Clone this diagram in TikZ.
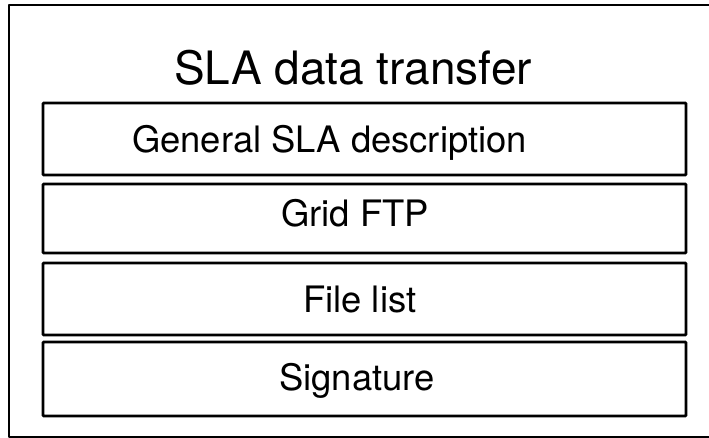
\documentclass[tikz,border=0pt]{standalone}
\usepackage{fontspec}
\setmainfont{TeX Gyre Heros}
\begin{document}
\begin{tikzpicture}[x=1pt,y=-1pt,
  frame/.style={draw=black,line width=2.8pt,line join=round},
  layer/.style={draw=black,line width=2.8pt,rounded corners=0.8pt,inner sep=0pt,
    minimum width=643pt},
  layertext/.style={anchor=base west,inner sep=0pt,font=\fontsize{36.4}{40}\selectfont},
  titletext/.style={anchor=base west,inner sep=0pt,font=\fontsize{46}{50}\selectfont}]
  \clip (0,0) rectangle (709,438);
  \useasboundingbox (0,0) rectangle (709,438);
  % outer frame
  \draw[frame] (9,5) rectangle (714,437);
  % protocol layers
  \node[layer,minimum height=72pt] (gen)  at (364.5,139)   {};
  \node[layer,minimum height=69pt] (ftp)  at (364.5,218.5) {};
  \node[layer,minimum height=72pt] (list) at (364.5,299)   {};
  \node[layer,minimum height=74pt] (sig)  at (364.5,379)   {};
  % labels
  \node[titletext] (title) at (174,85) {SLA data transfer};
  \node[layertext] (gentext) at (132,153) {General SLA description};
  \node[layertext] (ftptext) at (281,227) {Grid FTP};
  \node[layertext] (listtext) at (303,312.5) {File list};
  \node[layertext] (sigtext) at (279,390) {Signature};
\end{tikzpicture}
\end{document}
